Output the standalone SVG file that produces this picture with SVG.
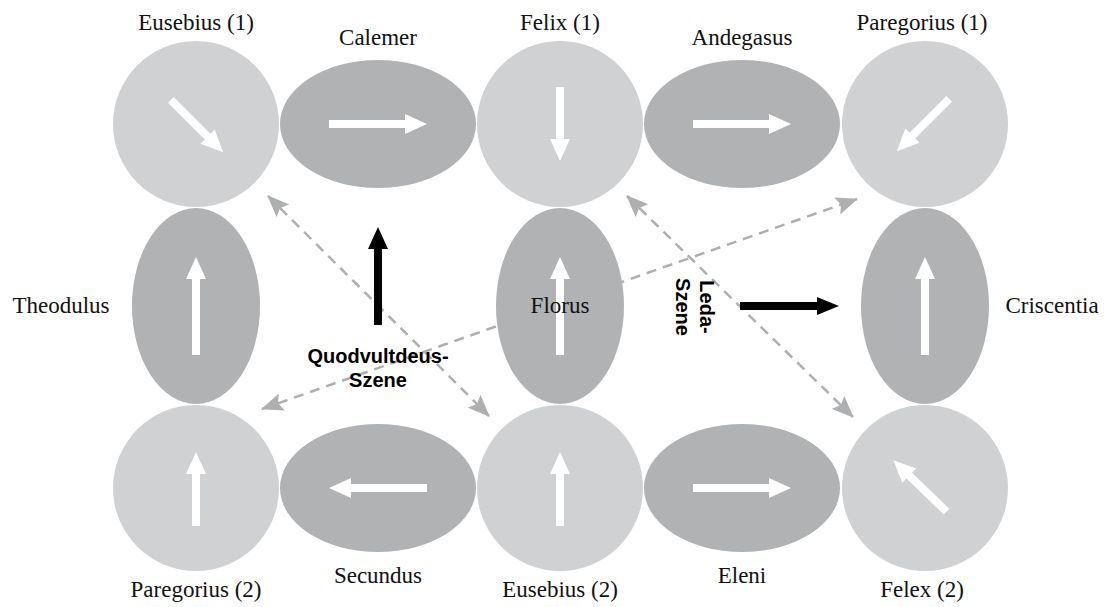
<svg xmlns="http://www.w3.org/2000/svg" width="1112" height="607" viewBox="0 0 1112 607">
<style>
.c{fill:#d0d1d3}
.e{fill:#b1b2b4}
.wa{fill:#ffffff}
.lbl{font-family:"Liberation Serif","Times New Roman",serif;font-size:23px;fill:#111;text-anchor:middle}
.b{font-family:"Liberation Sans",Arial,sans-serif;font-size:20px;font-weight:bold;fill:#000;text-anchor:middle}
.dash{stroke:#aeafb1;stroke-width:2.5;stroke-dasharray:10 7;fill:none;marker-start:url(#ah);marker-end:url(#ah)}
</style>
<defs>
<marker id="ah" markerUnits="userSpaceOnUse" markerWidth="22" markerHeight="18" refX="21" refY="9" orient="auto-start-reverse" viewBox="0 0 22 18">
<path d="M0,0 L22,9 L0,18 L4,9 Z" fill="#aeafb1"/>
</marker>
<path id="la" d="M-49,-4 L27,-4 L27,-10 L49,0 L27,10 L27,4 L-49,4 Z"/>
<path id="sa" d="M-37,-4 L15,-4 L15,-10 L37,0 L15,10 L15,4 L-37,4 Z"/>
</defs>
<rect width="1112" height="607" fill="#ffffff"/>
<g id="connectors">
<line class="dash" x1="268" y1="196" x2="489" y2="416"/>
<line class="dash" x1="262" y1="409" x2="857" y2="199"/>
<line class="dash" x1="627" y1="196" x2="853" y2="417"/>
</g>
<g id="eusebius1"><circle class="c" cx="196" cy="124" r="83"/><use href="#sa" class="wa" transform="translate(197,126) rotate(45)"/><text class="lbl" x="196" y="30">Eusebius (1)</text></g>
<g id="calemer"><ellipse class="e" cx="378" cy="124" rx="98" ry="64"/><use href="#la" class="wa" transform="translate(378,124)"/><text class="lbl" x="378" y="45">Calemer</text></g>
<g id="felix1"><circle class="c" cx="560" cy="124" r="83"/><use href="#sa" class="wa" transform="translate(560,124) rotate(90)"/><text class="lbl" x="560" y="30">Felix (1)</text></g>
<g id="andegasus"><ellipse class="e" cx="742" cy="124" rx="98" ry="64"/><use href="#la" class="wa" transform="translate(742,124)"/><text class="lbl" x="742" y="45">Andegasus</text></g>
<g id="paregorius1"><circle class="c" cx="925" cy="124" r="83"/><use href="#sa" class="wa" transform="translate(923,125) rotate(135)"/><text class="lbl" x="922" y="30">Paregorius (1)</text></g>
<g id="theodulus"><ellipse class="e" cx="196" cy="306" rx="64" ry="98"/><use href="#la" class="wa" transform="translate(196,306) rotate(-90)"/><text class="lbl" x="61" y="313">Theodulus</text></g>
<g id="florus"><ellipse class="e" cx="560" cy="306" rx="64" ry="98"/><use href="#la" class="wa" transform="translate(560,306) rotate(-90)"/><text class="lbl" x="560" y="313">Florus</text></g>
<g id="criscentia"><ellipse class="e" cx="925" cy="306" rx="64" ry="98"/><use href="#la" class="wa" transform="translate(925,306) rotate(-90)"/><text class="lbl" x="1052" y="313">Criscentia</text></g>
<g id="paregorius2"><circle class="c" cx="196" cy="488" r="83"/><use href="#sa" class="wa" transform="translate(196,489) rotate(-90)"/><text class="lbl" x="196" y="597">Paregorius (2)</text></g>
<g id="secundus"><ellipse class="e" cx="378" cy="488" rx="98" ry="64"/><use href="#la" class="wa" transform="translate(378,488) rotate(180)"/><text class="lbl" x="378" y="583">Secundus</text></g>
<g id="eusebius2"><circle class="c" cx="560" cy="488" r="83"/><use href="#sa" class="wa" transform="translate(560,489) rotate(-90)"/><text class="lbl" x="560" y="597">Eusebius (2)</text></g>
<g id="eleni"><ellipse class="e" cx="742" cy="488" rx="98" ry="64"/><use href="#la" class="wa" transform="translate(742,488)"/><text class="lbl" x="742" y="583">Eleni</text></g>
<g id="felex2"><circle class="c" cx="925" cy="488" r="83"/><use href="#sa" class="wa" transform="translate(920,486) rotate(-136)"/><text class="lbl" x="922" y="597">Felex (2)</text></g>
<g id="quodvultdeus">
<path d="M374,325 L374,249 L368,249 L378,227 L388,249 L382,249 L382,325 Z" fill="#000"/>
<text class="b" x="378" y="363">Quodvultdeus-</text>
<text class="b" x="378" y="387">Szene</text>
</g>
<g id="leda">
<path d="M740,302 L817,302 L817,297 L839,306 L817,315 L817,310 L740,310 Z" fill="#000"/>
<g transform="translate(700,307) rotate(90)"><text class="b" x="0" y="0">Leda-</text><text class="b" x="0" y="24">Szene</text></g>
</g>
</svg>
